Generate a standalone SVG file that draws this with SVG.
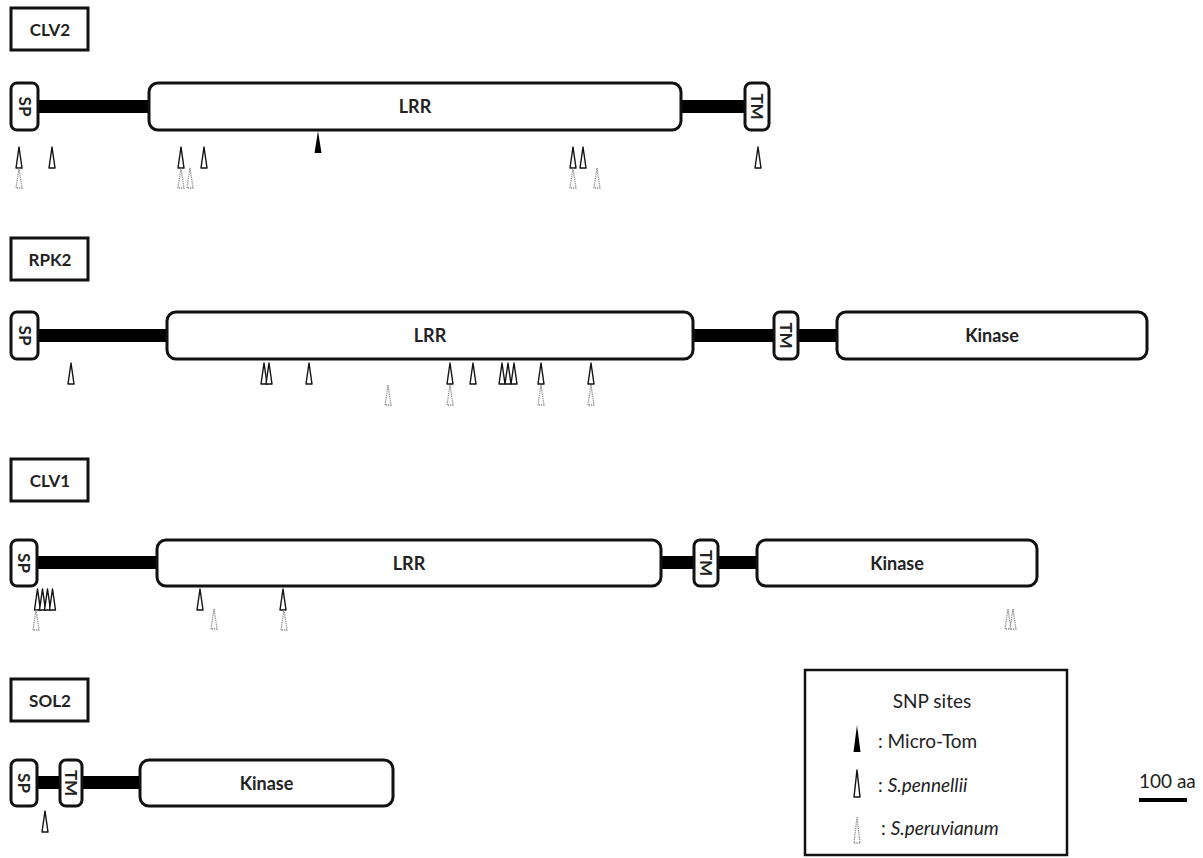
<svg xmlns="http://www.w3.org/2000/svg" xmlns:xlink="http://www.w3.org/1999/xlink" width="1203" height="858" viewBox="0 0 1203 858">
<style>
.lbl{fill:#fff;stroke:#111;stroke-width:3}
.dom{fill:#fff;stroke:#111;stroke-width:3}
.lnk{fill:#000}
.t{font-family:Lato,"Liberation Sans",sans-serif;font-weight:bold;fill:#222;text-anchor:middle}
.tl{font-size:17px}
.td{font-size:18px}
.ts{font-size:17px}
.lg{font-family:Lato,"Liberation Sans",sans-serif;font-size:19px;fill:#222}
</style>
<defs>
<polygon id="pen" points="0,0 3,21 -3,21" fill="#fff" stroke="#111" stroke-width="1.4" stroke-linejoin="round"/>
<polygon id="per" points="0,0 3,20 -3,20" fill="#fff" stroke="#888" stroke-width="1.3" stroke-dasharray="1.2 1"/>
<polygon id="mt" points="0,0 3.5,22 -3.5,22" fill="#000"/>
</defs>
<rect width="1203" height="858" fill="#fff"/>

<g id="CLV2">
<rect class="lbl" x="11" y="8" width="77" height="42"/>
<text class="t tl" x="50" y="36">CLV2</text>
<rect class="lnk" x="36" y="100" width="116" height="13"/>
<rect class="lnk" x="679" y="100" width="68" height="13"/>
<rect class="dom" x="11" y="83" width="27" height="47" rx="6"/>
<text class="t ts" transform="translate(24.5,106.5) rotate(90)" y="6">SP</text>
<rect class="dom" x="149" y="83" width="532" height="47" rx="9"/>
<text class="t td" x="415" y="113">LRR</text>
<rect class="dom" x="745" y="83" width="24" height="47" rx="6"/>
<text class="t ts" transform="translate(757,106.5) rotate(90)" y="6">TM</text>
<use href="#mt" x="318" y="131"/>
<use href="#pen" x="19" y="147"/><use href="#pen" x="52" y="147"/><use href="#pen" x="181" y="147"/><use href="#pen" x="204" y="147"/>
<use href="#pen" x="573" y="147"/><use href="#pen" x="583" y="147"/><use href="#pen" x="758" y="147"/>
<use href="#per" x="19" y="168"/><use href="#per" x="181" y="168"/><use href="#per" x="190" y="168"/><use href="#per" x="573" y="168"/><use href="#per" x="597" y="168"/>
</g>

<g id="RPK2">
<rect class="lbl" x="11" y="238" width="77" height="42"/>
<text class="t tl" x="50" y="266">RPK2</text>
<rect class="lnk" x="36" y="329" width="133" height="13"/>
<rect class="lnk" x="691" y="329" width="148" height="13"/>
<rect class="dom" x="11" y="312" width="27" height="47" rx="6"/>
<text class="t ts" transform="translate(24.5,335.5) rotate(90)" y="6">SP</text>
<rect class="dom" x="167" y="312" width="526" height="47" rx="9"/>
<text class="t td" x="430" y="342">LRR</text>
<rect class="dom" x="774" y="312" width="24" height="47" rx="6"/>
<text class="t ts" transform="translate(786,335.5) rotate(90)" y="6">TM</text>
<rect class="dom" x="837" y="312" width="310" height="47" rx="9"/>
<text class="t td" x="992" y="342">Kinase</text>
<use href="#pen" x="71" y="363"/><use href="#pen" x="264" y="363"/><use href="#pen" x="269" y="363"/><use href="#pen" x="309" y="363"/>
<use href="#pen" x="450" y="363"/><use href="#pen" x="473" y="363"/><use href="#pen" x="502" y="363"/><use href="#pen" x="508" y="363"/><use href="#pen" x="514" y="363"/>
<use href="#pen" x="541" y="363"/><use href="#pen" x="591" y="363"/>
<use href="#per" x="388" y="385"/><use href="#per" x="450" y="385"/><use href="#per" x="541" y="385"/><use href="#per" x="591" y="385"/>
</g>

<g id="CLV1">
<rect class="lbl" x="11" y="459" width="77" height="42"/>
<text class="t tl" x="50" y="487">CLV1</text>
<rect class="lnk" x="36" y="556" width="123" height="13"/>
<rect class="lnk" x="659" y="556" width="100" height="13"/>
<rect class="dom" x="11" y="540" width="26" height="46" rx="6"/>
<text class="t ts" transform="translate(24,563) rotate(90)" y="6">SP</text>
<rect class="dom" x="157" y="540" width="504" height="46" rx="9"/>
<text class="t td" x="409" y="570">LRR</text>
<rect class="dom" x="694" y="540" width="24" height="46" rx="6"/>
<text class="t ts" transform="translate(706,563) rotate(90)" y="6">TM</text>
<rect class="dom" x="757" y="540" width="280" height="46" rx="9"/>
<text class="t td" x="897" y="570">Kinase</text>
<use href="#pen" x="37.5" y="589"/><use href="#pen" x="42.5" y="589"/><use href="#pen" x="47.5" y="589"/><use href="#pen" x="52.5" y="589"/>
<use href="#pen" x="200" y="589"/><use href="#pen" x="283" y="589"/>
<use href="#per" x="36" y="610"/><use href="#per" x="214" y="609"/><use href="#per" x="284" y="610"/><use href="#per" x="1008" y="609"/><use href="#per" x="1013" y="609"/>
</g>

<g id="SOL2">
<rect class="lbl" x="11" y="679" width="77" height="42"/>
<text class="t tl" x="50" y="707">SOL2</text>
<rect class="lnk" x="36" y="776" width="106" height="13"/>
<rect class="dom" x="11" y="760" width="26" height="46" rx="6"/>
<text class="t ts" transform="translate(24,783) rotate(90)" y="6">SP</text>
<rect class="dom" x="60" y="760" width="22" height="46" rx="6"/>
<text class="t ts" transform="translate(71,783) rotate(90)" y="6">TM</text>
<rect class="dom" x="140" y="760" width="253" height="46" rx="9"/>
<text class="t td" x="266.5" y="790">Kinase</text>
<use href="#pen" x="45" y="811"/>
</g>

<g id="legend">
<rect x="805" y="670" width="262" height="185" fill="#fff" stroke="#111" stroke-width="2.5"/>
<text class="lg" x="932" y="708" text-anchor="middle">SNP sites</text>
<polygon points="857,725 860.5,752 853.5,752" fill="#000"/>
<text class="lg" x="878" y="748">: Micro-Tom</text>
<polygon points="857,770 860,797 854,797" fill="#fff" stroke="#111" stroke-width="1.4" stroke-linejoin="round"/>
<text class="lg" x="878" y="792">: <tspan font-style="italic">S.pennellii</tspan></text>
<polygon points="857,817 860,843 854,843" fill="#fff" stroke="#888" stroke-width="1.3" stroke-dasharray="1.2 1"/>
<text class="lg" x="881" y="835">: <tspan font-style="italic">S.peruvianum</tspan></text>
</g>

<g id="scalebar">
<text class="lg" x="1139" y="788">100 aa</text>
<rect x="1139" y="798" width="48" height="4" fill="#000"/>
</g>
</svg>
